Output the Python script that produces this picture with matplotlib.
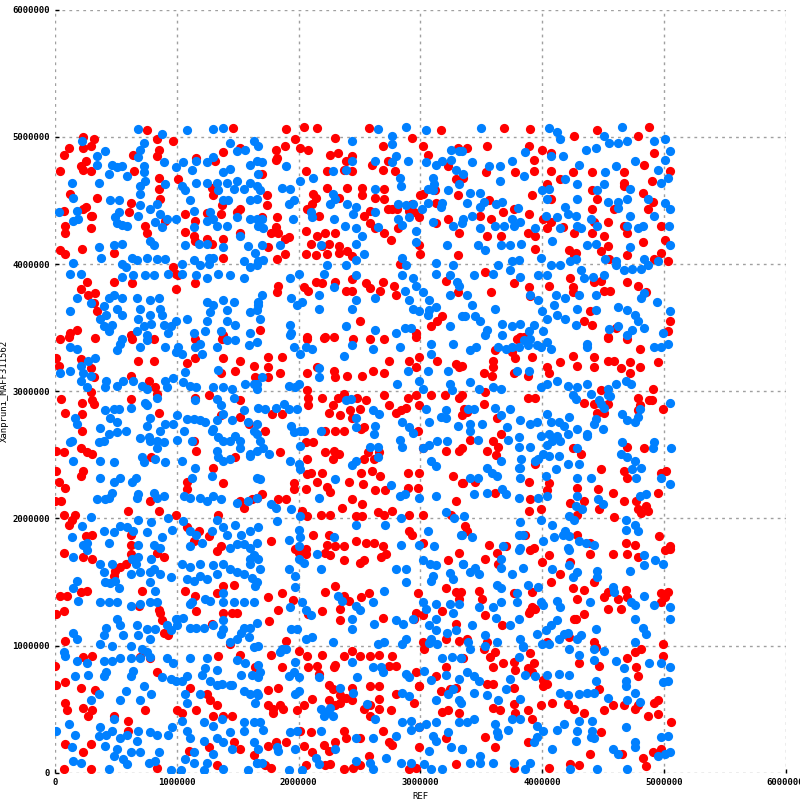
import numpy as np
import matplotlib
matplotlib.use("Agg")
import matplotlib.pyplot as plt

# dot positions, in Mb (x = REF, y = query)
# blue = forward matches, red = reverse matches, grouped by area of the plot

blue_top_left = [(0.68,5.06),(0.88,5.02),(1.08,5.05),(1.30,5.06),(1.38,5.07),(0.22,4.97),(0.34,4.85),(0.34,4.78),(0.41,4.89),(0.47,4.78),(0.51,4.76),(0.44,4.71),(0.55,4.77),(0.59,4.69),(0.70,4.90),(0.73,4.95),(0.68,4.84),(0.73,4.77),(0.73,4.72),(0.89,4.80),(0.99,4.76),(1.05,4.80),(1.04,4.61),(1.07,4.58),(0.36,4.64),(0.14,4.64),(0.15,4.52),(0.45,4.50),(0.52,4.50),(0.03,4.41),(0.18,4.42),(0.19,4.35),(0.15,4.34),(0.52,4.41),(0.49,4.37),(0.51,4.32),(0.59,4.30),(0.55,4.31),(0.70,4.61),(0.74,4.65),(0.70,4.55),(0.70,4.46),(0.68,4.38),(0.90,4.63),(0.78,4.43),(0.84,4.47),(0.86,4.39),(0.82,4.33),(0.92,4.35),(0.88,4.29),(0.78,4.18),(0.81,4.15),(0.99,4.35),(0.36,4.13),(0.48,4.15),(0.55,4.16),(0.38,4.05),(0.63,4.05),(0.67,4.03),(0.75,4.05),(0.84,4.04),(0.90,4.04),(0.15,4.01),(0.55,4.00),(0.58,3.98),(1.04,4.00),(1.04,3.92),(0.12,3.92),(0.21,3.92),(0.55,3.90),(0.64,3.91),(0.74,3.91),(0.81,3.91),(0.93,3.92),(0.18,3.73),(0.29,3.69),(0.40,3.67),(0.44,3.73),(0.48,3.76),(0.42,3.60),(0.37,3.57),(0.47,3.52),(0.40,3.51),(0.44,3.47),(0.67,3.73),(0.70,3.65),(0.68,3.57),(0.73,3.51),(0.75,3.44),(0.67,3.47),(0.78,3.72),(0.85,3.73),(0.86,3.65),(0.78,3.60),(0.79,3.53),(0.89,3.52),(0.95,3.51),(0.99,3.55),(0.93,3.46),(0.55,3.73),(0.51,3.65),(0.55,3.60),(0.12,3.63),(0.88,3.60),
    (1.16,4.81),(1.25,4.80),(1.30,4.84),(1.38,4.72),(1.44,4.75),(1.49,4.89),(1.56,4.90),(1.63,4.97),(1.12,4.74),(1.44,4.95),(1.60,4.78),(1.67,4.71),(1.16,4.64),(1.25,4.64),(1.33,4.64),(1.41,4.64),(1.49,4.65),(1.60,4.64),(1.66,4.61),(1.34,4.58),(1.38,4.50),(1.42,4.50),(1.47,4.59),(1.55,4.59),(1.60,4.50),(1.27,4.41),(1.30,4.35),(1.25,4.34),(1.33,4.30),(1.41,4.30),(1.49,4.37),(1.60,4.35),(1.66,4.35),(1.11,4.50),(1.14,4.42),(1.14,4.29),(1.18,4.16),(1.25,4.16),(1.38,4.13),(1.52,4.22),(1.58,4.14),(1.64,4.09),(1.26,4.05),(1.30,4.05),(1.07,4.15),(1.14,4.03),(1.19,3.99),(1.26,4.00),(1.55,4.02),(1.60,3.98),(1.66,3.99),(1.16,3.91),(1.25,3.89),(1.34,3.92),(1.44,3.91),(1.55,3.89),(1.25,3.70),(1.27,3.62),(1.25,3.55),(1.23,3.47),(1.30,3.68),(1.38,3.72),(1.41,3.64),(1.47,3.70),(1.41,3.55),(1.48,3.52),(1.36,3.47),(1.60,3.62),(1.67,3.68),(1.08,3.57),(1.14,3.46),(1.60,3.46)]

red_top_left = [(0.75,5.05),(0.97,4.97),(1.46,5.07),(0.23,5.00),(0.32,4.98),(0.29,4.93),(0.23,4.91),(0.11,4.91),(0.07,4.86),(0.25,4.81),(0.21,4.77),(0.29,4.73),(0.23,4.74),(0.04,4.73),(0.64,4.86),(0.65,4.73),(0.84,4.98),(0.85,4.90),(0.84,4.85),(1.01,4.67),(0.12,4.55),(0.34,4.52),(0.25,4.45),(0.30,4.38),(0.29,4.28),(0.62,4.48),(0.61,4.41),(0.07,4.42),(0.23,4.43),(0.29,4.38),(0.08,4.30),(0.08,4.24),(0.04,4.11),(0.08,4.08),(0.85,4.68),(0.85,4.59),(0.86,4.51),(0.90,4.34),(0.74,4.30),(0.75,4.24),(1.07,4.39),(0.22,4.12),(0.48,4.09),(0.97,3.98),(0.99,3.92),(1.01,3.91),(0.26,3.86),(0.48,3.86),(0.63,3.85),(0.21,3.80),(0.27,3.76),(0.33,3.77),(0.34,3.63),(0.32,3.69),(0.99,3.80),(0.18,3.48),(0.12,3.46),(0.62,3.44),
    (1.16,4.83),(1.31,4.81),(1.38,4.88),(1.52,4.91),(1.29,4.60),(1.30,4.54),(1.37,4.46),(1.36,4.39),(1.49,4.41),(1.52,4.43),(1.15,4.34),(1.15,4.18),(1.29,4.16),(1.38,4.20),(1.25,4.20),(1.25,4.40),(1.07,4.25),(1.14,4.22),(1.38,4.05),(1.52,4.24),(1.15,3.85),(1.38,3.44)]

blue_top_mid = [(2.65,5.06),(2.88,5.08),(3.05,5.05),(1.67,4.93),(1.70,4.80),(1.66,4.81),(2.44,4.97),(2.44,4.81),(2.39,4.74),(2.28,4.73),(2.77,5.01),(2.77,4.94),(2.80,4.85),(2.77,4.80),(2.90,4.81),(2.63,4.81),(1.90,4.77),(2.12,4.68),(2.01,4.65),(2.83,4.68),(2.84,4.61),(3.05,4.80),(3.13,4.78),(3.18,4.81),(3.25,4.82),(3.25,4.90),(3.32,4.89),(3.29,4.74),(3.10,4.68),(3.11,4.63),(3.06,4.59),(3.10,4.58),(3.23,4.58),(3.32,4.63),(1.86,4.60),(1.93,4.59),(1.68,4.58),(1.66,4.51),(1.96,4.50),(1.92,4.47),(1.95,4.35),(1.70,4.35),(1.67,4.30),(1.71,4.28),(1.70,4.15),(1.85,4.15),(1.67,4.02),(1.71,4.03),(2.10,4.41),(2.11,4.37),(2.28,4.55),(2.30,4.51),(2.26,4.47),(2.29,4.35),(2.40,4.47),(2.47,4.45),(2.45,4.39),(2.63,4.59),(2.18,4.15),(2.47,4.16),(2.52,4.22),(2.47,4.28),(2.54,4.08),(2.47,4.03),(2.38,4.30),(2.65,4.29),(2.63,4.41),(2.82,4.47),(2.88,4.46),(2.82,4.35),(2.85,4.31),(2.91,4.37),(2.94,4.47),(3.01,4.43),(2.96,4.26),(2.96,4.17),(3.10,4.33),(3.22,4.15),(3.06,4.48),(3.17,4.45),(3.18,4.48),(3.27,4.30),(3.34,4.32),(2.85,4.05),(2.88,3.99),(2.85,3.91),(2.94,3.89),(2.96,3.83),(2.87,3.79),(2.91,3.72),(2.94,3.65),(2.99,3.63),(3.02,3.78),(3.07,3.72),(3.13,3.66),(3.07,3.64),(3.13,4.01),(3.27,3.99),(3.13,3.92),(3.24,3.91),(3.30,3.86),(3.32,3.83),(3.24,3.76),(3.24,3.51),(3.34,3.59),(3.06,3.60),(2.39,3.99),(2.23,3.99),(2.21,3.92),(2.00,3.92),(1.93,3.89),(2.29,3.82),(2.47,3.91),(1.70,3.76),(1.67,3.70),(1.66,3.64),(2.03,3.70),(1.94,3.73),(1.99,3.68),(2.17,3.76),(2.17,3.65),(2.47,3.72),(2.44,3.65),(2.63,3.73),(1.68,3.57),(1.93,3.52),(1.94,3.46),(2.39,3.51),(2.63,3.48),(2.80,3.46),(2.87,3.50),(2.92,3.50)]

red_top_mid = [(1.90,5.06),(2.04,5.08),(2.15,5.07),(2.58,5.07),(3.17,5.05),(1.97,4.98),(2.01,4.91),(1.89,4.93),(1.81,4.90),(1.82,4.83),(2.08,4.90),(2.30,4.99),(2.26,4.86),(2.32,4.87),(2.39,4.81),(2.44,4.85),(2.44,4.73),(2.37,4.74),(2.23,4.73),(2.69,4.93),(2.60,4.78),(2.69,4.74),(2.79,4.73),(2.73,4.81),(2.93,4.99),(3.02,4.93),(3.06,4.86),(1.70,4.71),(1.81,4.82),(2.06,4.73),(3.23,4.77),(3.31,4.91),(3.29,4.67),(3.35,4.68),(3.12,4.58),(3.02,4.55),(3.31,4.54),(1.74,4.54),(1.74,4.46),(1.82,4.37),(1.81,4.29),(1.77,4.24),(1.70,4.37),(1.83,4.24),(1.89,4.20),(1.92,4.21),(1.75,4.13),(1.89,4.08),(1.82,4.04),(2.14,4.52),(2.11,4.47),(2.07,4.43),(2.17,4.38),(2.12,4.55),(2.23,4.60),(2.33,4.52),(2.40,4.60),(2.52,4.60),(2.52,4.54),(2.63,4.52),(2.70,4.59),(2.70,4.51),(2.06,4.26),(2.15,4.22),(2.22,4.24),(2.30,4.24),(2.25,4.16),(2.33,4.14),(2.19,4.14),(2.10,4.16),(2.06,4.08),(2.14,4.07),(2.23,4.08),(2.33,4.09),(2.40,4.10),(2.44,4.06),(2.54,4.38),(2.59,4.42),(2.63,4.28),(2.70,4.24),(2.76,4.19),(2.59,4.32),(2.73,4.43),(2.77,4.43),(2.81,4.43),(2.91,4.42),(2.95,4.41),(2.99,4.37),(2.93,4.47),(3.00,4.54),(2.82,4.28),(3.13,4.32),(3.23,4.35),(2.99,4.15),(3.00,4.08),(3.13,4.48),(3.32,4.24),(3.31,4.07),(2.83,4.00),(3.21,3.87),(3.31,3.78),(3.14,3.55),(3.09,3.51),(3.18,3.59),(2.14,3.86),(2.19,3.85),(2.04,3.82),(2.08,3.79),(2.30,3.86),(2.39,3.79),(2.44,3.79),(2.55,3.85),(2.59,3.81),(2.69,3.86),(2.67,3.79),(2.78,3.83),(2.80,3.76),(1.83,3.83),(1.82,3.78),(2.44,3.88),(2.50,3.55),(2.96,3.46),(1.68,3.48),(2.07,3.43),(2.22,3.43)]

blue_top_right = [(3.50,5.07),(4.06,5.07),(4.12,5.04),(4.15,4.98),(4.51,5.01),(4.55,4.95),(4.62,4.95),(4.70,4.97),(4.66,5.08),(4.92,4.97),(5.01,4.98),(5.05,4.89),(5.01,4.82),(3.34,4.89),(3.42,4.80),(3.56,4.77),(3.65,4.77),(3.75,4.81),(3.86,4.88),(3.85,4.69),(3.65,4.65),(4.07,4.85),(4.17,4.85),(4.36,4.90),(4.44,4.91),(4.30,4.78),(4.19,4.67),(4.29,4.63),(4.52,4.72),(4.61,4.77),(4.76,4.81),(4.95,4.74),(4.98,4.64),(5.03,4.68),(3.35,4.71),(3.41,4.56),(3.49,4.56),(3.38,4.48),(3.35,4.35),(3.42,4.38),(3.49,4.45),(3.52,4.49),(3.62,4.47),(3.67,4.49),(3.80,4.44),(3.75,4.35),(3.82,4.33),(3.61,4.30),(3.69,4.30),(3.77,4.30),(3.49,4.28),(3.47,4.15),(3.53,4.11),(3.66,4.15),(3.74,4.15),(3.83,4.16),(3.94,4.28),(4.00,4.58),(4.06,4.59),(4.04,4.51),(4.03,4.38),(4.12,4.37),(4.19,4.45),(4.21,4.39),(4.28,4.38),(4.08,4.18),(4.15,4.28),(4.29,4.51),(4.29,4.30),(4.32,4.28),(4.40,4.35),(4.37,4.15),(4.44,4.16),(4.45,4.30),(4.45,4.58),(4.51,4.63),(4.54,4.49),(4.62,4.49),(4.62,4.44),(4.72,4.59),(4.70,4.51),(4.72,4.38),(4.70,4.30),(4.79,4.28),(4.83,4.30),(4.87,4.51),(4.92,4.38),(5.01,4.48),(5.05,4.43),(5.04,4.30),(5.05,4.15),(4.72,4.13),(4.84,4.04),(4.52,4.04),(4.61,3.99),(3.99,4.05),(4.07,3.99),(4.15,3.99),(4.23,4.02),(4.28,4.04),(3.97,3.91),(4.04,3.91),(3.64,3.99),(3.75,4.02),(3.81,4.03),(3.74,3.95),(3.82,3.90),(3.60,3.92),(3.44,3.91),(4.32,3.95),(4.34,3.89),(4.42,3.90),(4.51,3.91),(4.61,4.02),(4.67,3.95),(4.74,3.96),(4.81,3.96),(4.87,3.99),(4.95,4.02),(3.38,3.76),(3.42,3.68),(3.45,3.59),(3.49,3.55),(3.37,3.59),(3.61,3.65),(3.67,3.53),(3.75,3.51),(3.82,3.53),(3.89,3.47),(3.93,3.52),(3.90,3.76),(3.97,3.72),(4.00,3.63),(4.04,3.57),(4.01,3.47),(4.11,3.76),(4.10,3.68),(4.12,3.60),(4.19,3.73),(4.19,3.57),(4.30,3.76),(4.29,3.65),(4.28,3.52),(4.44,3.76),(4.44,3.64),(4.62,3.66),(4.70,3.64),(4.76,3.60),(4.79,3.55),(4.74,3.48),(4.81,3.73),(4.84,3.77),(4.94,3.70),(5.05,3.63),(4.99,3.46),(4.55,3.49),(4.84,3.50),(4.62,3.51),(3.55,3.48)]

red_top_right = [(3.69,5.07),(3.90,5.06),(4.26,5.01),(4.45,5.05),(4.79,5.01),(4.88,5.08),(3.38,4.91),(3.55,4.93),(3.89,4.93),(3.93,4.82),(3.78,4.72),(4.00,4.90),(4.07,4.87),(3.54,4.72),(3.93,4.73),(4.07,4.73),(4.25,4.72),(4.15,4.67),(4.41,4.72),(4.67,4.72),(4.84,4.78),(4.67,4.64),(4.92,4.87),(5.05,4.73),(4.90,4.65),(3.49,4.38),(3.58,4.35),(3.56,4.50),(3.68,4.41),(3.77,4.43),(3.89,4.39),(3.66,4.22),(3.55,4.22),(3.88,4.24),(3.94,4.22),(3.94,4.12),(3.92,4.54),(4.04,4.63),(4.07,4.51),(4.01,4.35),(4.07,4.33),(4.04,4.28),(4.17,4.29),(4.26,4.24),(4.28,4.09),(4.41,4.58),(4.45,4.51),(4.41,4.43),(4.43,4.33),(4.54,4.33),(4.51,4.22),(4.41,4.24),(4.54,4.14),(4.48,4.10),(4.59,4.43),(4.67,4.61),(4.67,4.30),(4.70,4.24),(4.83,4.56),(4.87,4.43),(4.91,4.49),(4.98,4.30),(5.01,4.19),(4.98,4.09),(4.92,4.04),(5.03,4.02),(4.83,4.17),(4.70,4.07),(4.55,4.04),(4.22,4.11),(4.26,4.07),(3.53,3.94),(3.77,3.85),(3.89,3.82),(3.58,3.78),(4.06,3.83),(3.90,3.75),(4.23,3.89),(4.25,3.82),(4.25,3.78),(4.43,3.86),(4.48,3.87),(4.51,3.79),(4.56,3.79),(4.70,3.86),(4.79,3.83),(4.85,3.78),(4.34,3.55),(4.41,3.52),(4.39,3.63),(4.61,3.50),(5.05,3.55),(5.03,3.47),(3.82,3.43),(4.54,3.43)]

blue_mid_left = [(0.12,3.35),(0.18,3.33),(0.53,3.37),(0.51,3.32),(0.70,3.35),(0.75,3.40),(0.90,3.35),(0.55,3.41),(0.04,3.14),(0.12,3.16),(0.21,3.20),(0.27,3.24),(0.33,3.26),(0.23,3.14),(0.29,3.12),(0.21,3.08),(0.26,3.03),(0.42,3.08),(0.41,3.03),(0.51,3.04),(0.56,3.08),(0.64,3.08),(0.71,3.04),(0.75,3.02),(0.90,3.08),(0.92,3.03),(0.97,3.10),(0.84,2.95),(1.01,3.35),(1.04,3.29),(0.99,3.31),(1.15,3.35),(1.19,3.37),(1.21,3.29),(1.33,3.35),(1.41,3.40),(1.48,3.40),(1.59,3.36),(1.66,3.39),(1.34,3.17),(1.07,3.15),(1.05,3.07),(1.11,3.04),(1.16,3.03),(1.30,3.03),(1.38,3.03),(1.45,3.02),(1.56,3.06),(1.63,3.06),(1.66,3.02),(0.62,2.87),(0.74,2.91),(0.75,2.89),(0.48,2.86),(0.52,2.86),(0.41,2.85),(0.45,2.79),(0.51,2.76),(0.16,2.79),(0.18,2.74),(0.44,2.66),(0.37,2.71),(0.40,2.61),(0.51,2.68),(0.58,2.69),(0.36,2.60),(0.14,2.61),(0.12,2.60),(0.78,2.79),(0.75,2.73),(0.77,2.64),(0.70,2.63),(0.78,2.61),(0.84,2.61),(0.86,2.69),(0.89,2.60),(0.90,2.74),(0.97,2.74),(1.00,2.81),(1.00,2.62),(1.06,2.69),(0.84,2.55),(0.82,2.47),(0.71,2.48),(0.73,2.44),(0.90,2.44),(1.04,2.45),(0.15,2.45),(0.37,2.45),(0.48,2.44),(1.08,2.78),(1.14,2.78),(1.19,2.77),(1.23,2.76),(1.12,2.61),(1.30,2.70),(1.34,2.64),(1.38,2.61),(1.44,2.61),(1.48,2.65),(1.52,2.61),(1.52,2.55),(1.60,2.51),(1.66,2.53),(1.33,2.53),(1.33,2.94),(1.36,2.89),(1.38,2.82),(1.45,2.77),(1.47,2.95),(1.55,2.85),(1.58,2.76),(1.63,2.69),(1.66,2.66),(1.33,2.77),(1.29,2.69),(1.15,2.93),(1.34,2.48),(1.38,2.45),(1.44,2.47),(1.15,2.40),(1.29,2.33),(1.66,2.32),(1.60,2.49),(0.37,2.32),(0.48,2.29),(0.53,2.32),(0.63,2.29),(0.66,2.32),(0.44,2.16),(0.47,2.20),(0.34,2.15),(0.41,2.15),(0.68,2.19),(0.67,2.16),(0.81,2.20),(0.89,2.18),(0.84,2.16),(1.06,2.18),(1.11,2.16),(1.19,2.16),(1.25,2.14),(1.30,2.18),(1.36,2.15),(1.12,2.32),(1.49,2.12),(1.58,2.14),(0.22,1.94),(0.29,2.01),(0.40,1.90),(0.48,1.89),(0.53,1.94),(0.59,1.93),(0.64,1.90),(0.68,1.99),(0.75,1.89),(0.79,1.97),(0.93,2.00),(0.88,1.85),(0.96,1.91),(0.14,1.85),(0.23,1.79),(0.26,1.81),(0.44,1.81),(0.68,1.79),(0.81,1.79),(0.86,1.77),(1.05,1.98),(1.11,1.90),(1.16,1.87),(1.21,1.81),(1.11,1.78),(1.29,1.90),(1.33,1.99),(1.38,1.93),(1.48,1.95),(1.41,1.87),(1.53,1.87),(1.60,1.90),(1.67,1.93),(1.49,1.80),(1.55,1.80),(1.60,1.77),(1.44,1.77)]

red_mid_left = [(0.04,3.41),(0.11,3.43),(0.33,3.42),(0.63,3.41),(0.81,3.41),(0.01,3.26),(0.03,3.20),(0.21,3.25),(0.29,3.18),(0.32,3.11),(0.68,3.24),(0.81,3.24),(0.62,3.12),(0.77,3.08),(0.82,3.03),(0.84,2.98),(0.29,2.99),(0.30,2.93),(0.32,2.90),(1.15,3.41),(1.38,3.26),(1.08,3.22),(1.15,3.26),(1.37,3.41),(1.52,3.24),(1.48,3.16),(1.63,3.20),(1.64,3.11),(1.36,3.14),(0.05,2.94),(0.08,2.83),(0.22,2.91),(0.22,2.82),(0.62,2.94),(0.85,2.83),(0.22,2.69),(0.21,2.55),(0.26,2.52),(0.30,2.51),(0.01,2.53),(0.07,2.52),(0.79,2.48),(1.16,2.53),(1.14,2.61),(1.52,2.80),(1.59,2.74),(1.36,2.81),(1.52,2.93),(1.26,2.97),(1.15,2.95),(1.30,2.40),(1.48,2.48),(1.38,2.28),(0.01,2.37),(0.03,2.29),(0.08,2.24),(0.23,2.37),(0.21,2.33),(0.00,2.14),(0.05,2.14),(0.78,2.14),(0.60,2.06),(0.85,2.06),(0.99,2.03),(0.07,2.03),(0.14,1.99),(0.16,2.03),(0.11,1.95),(1.08,2.29),(1.08,2.23),(1.52,2.14),(1.55,2.08),(1.62,2.15),(1.66,2.16),(0.25,1.86),(0.30,1.87),(0.62,1.87),(0.62,1.79),(1.08,1.93),(1.18,1.90),(1.26,1.86),(1.34,2.03),(1.14,1.82),(1.36,1.78)]

blue_mid_mid = [(1.93,3.44),(2.44,3.36),(2.61,3.33),(2.83,3.35),(3.09,3.37),(3.27,3.37),(3.09,3.29),(1.96,3.35),(2.06,3.35),(2.11,3.33),(2.01,3.29),(2.37,3.28),(2.17,3.18),(2.17,3.11),(2.90,3.16),(3.06,3.16),(3.23,3.16),(2.81,3.06),(2.99,3.08),(3.24,3.06),(3.26,3.01),(1.70,3.11),(1.66,3.06),(1.92,3.04),(2.00,3.06),(1.97,3.03),(2.39,2.93),(2.43,2.94),(2.47,2.79),(2.61,2.85),(2.66,2.82),(3.05,2.86),(3.21,2.85),(3.17,2.80),(3.31,2.73),(3.02,3.02),(1.67,2.87),(1.72,2.86),(1.81,2.87),(1.88,2.90),(1.92,2.86),(1.99,2.86),(1.66,2.74),(1.94,2.73),(1.96,2.68),(2.01,2.69),(2.04,2.69),(2.18,2.69),(2.47,2.72),(2.63,2.73),(2.62,2.66),(2.85,2.76),(2.91,2.72),(2.94,2.67),(2.83,2.62),(2.85,2.56),(3.02,2.55),(3.07,2.76),(3.07,2.58),(3.14,2.61),(3.22,2.61),(3.21,2.79),(1.68,2.61),(1.71,2.55),(1.76,2.51),(2.01,2.57),(1.93,2.45),(2.00,2.43),(2.01,2.39),(2.47,2.45),(2.44,2.42),(2.59,2.56),(2.65,2.56),(2.65,2.48),(3.09,2.45),(3.13,2.41),(1.68,2.31),(2.30,2.31),(2.76,2.26),(2.83,2.18),(2.87,2.19),(2.99,2.16),(3.13,2.18),(3.21,2.05),(3.28,2.00),(3.36,2.02),(1.66,2.16),(1.77,2.11),(1.81,2.08),(1.94,2.07),(2.17,2.16),(2.01,2.02),(1.82,1.98),(2.47,1.95),(2.71,1.95),(2.84,2.00),(2.00,1.91),(2.01,1.85),(1.92,1.83),(2.00,1.78),(1.66,1.81),(2.29,1.85),(2.84,1.79),(2.99,1.79),(3.06,1.90),(3.11,1.78),(3.33,1.87)]

red_mid_mid = [(2.07,3.41),(2.21,3.42),(2.29,3.43),(2.45,3.41),(2.59,3.41),(2.70,3.41),(2.96,3.43),(1.75,3.27),(1.86,3.27),(1.75,3.19),(1.85,3.14),(2.07,3.14),(2.15,3.19),(2.29,3.16),(2.30,3.11),(2.40,3.12),(2.52,3.12),(2.61,3.16),(2.74,3.24),(2.70,3.14),(2.91,3.24),(2.99,3.27),(2.96,3.19),(3.14,3.24),(3.29,3.21),(3.32,3.19),(1.75,3.11),(2.07,3.01),(2.08,2.95),(2.19,2.95),(2.28,2.89),(2.32,2.95),(2.25,2.83),(2.37,2.98),(2.48,2.95),(2.55,2.93),(2.50,2.86),(2.70,2.97),(2.74,2.89),(2.80,2.83),(2.90,2.95),(2.96,2.97),(2.99,2.89),(3.09,2.97),(3.20,2.97),(3.32,2.95),(3.36,2.86),(1.78,2.82),(1.86,2.82),(2.08,2.89),(2.34,2.81),(2.42,2.85),(2.44,2.79),(2.84,2.85),(2.88,2.87),(1.72,2.69),(2.22,2.69),(2.30,2.69),(2.37,2.69),(2.51,2.70),(2.54,2.72),(2.98,2.69),(2.06,2.60),(2.12,2.60),(3.02,2.55),(3.21,2.53),(3.32,2.53),(1.85,2.52),(2.07,2.47),(2.22,2.52),(2.29,2.53),(2.33,2.51),(2.28,2.47),(2.57,2.52),(2.54,2.47),(2.62,2.47),(2.66,2.52),(2.07,2.35),(2.10,2.36),(2.19,2.36),(1.96,2.28),(1.96,2.23),(2.06,2.23),(2.15,2.29),(2.23,2.25),(2.26,2.21),(2.41,2.29),(2.51,2.36),(2.60,2.37),(2.67,2.33),(2.53,2.27),(2.71,2.22),(2.63,2.22),(2.90,2.36),(2.99,2.36),(2.90,2.24),(2.98,2.24),(3.27,2.33),(3.35,2.28),(3.29,2.14),(1.70,2.19),(1.83,2.15),(1.90,2.15),(2.03,2.06),(2.07,2.02),(2.18,2.03),(2.26,2.03),(2.36,2.08),(2.44,2.15),(2.52,2.11),(2.47,2.02),(2.52,2.02),(2.65,2.05),(2.70,2.03),(2.77,2.06),(2.91,2.03),(3.02,2.03),(3.25,2.03),(1.77,1.82),(2.12,1.87),(2.25,1.87),(2.23,1.79),(2.30,1.78),(2.37,1.78),(2.47,1.82),(2.55,1.81),(2.62,1.81),(2.69,1.78),(2.91,1.90),(2.93,1.87),(3.02,1.81),(1.97,1.76),(2.06,1.76)]

blue_mid_right = [(3.53,3.44),(3.67,3.44),(3.85,3.40),(3.90,3.41),(3.96,3.36),(4.04,3.39),(3.88,3.36),(3.81,3.35),(3.99,3.35),(3.41,3.32),(3.46,3.35),(3.64,3.35),(3.70,3.33),(3.75,3.35),(3.79,3.16),(3.89,3.16),(4.07,3.33),(4.37,3.37),(4.37,3.35),(4.70,3.44),(4.92,3.35),(4.98,3.35),(5.03,3.37),(3.41,3.07),(3.48,3.02),(3.60,3.03),(3.66,3.02),(3.99,3.03),(4.04,3.06),(4.12,3.08),(4.21,3.04),(4.29,3.03),(4.37,3.06),(4.54,3.02),(4.61,3.06),(4.69,3.08),(4.73,3.06),(4.25,2.97),(4.28,2.94),(4.40,2.98),(4.47,2.93),(4.54,2.97),(4.56,2.96),(5.05,2.91),(4.48,2.90),(4.51,2.87),(4.80,2.86),(4.66,2.82),(4.70,2.77),(4.76,2.76),(4.79,2.80),(3.39,2.86),(3.44,2.86),(3.61,2.87),(3.66,2.81),(3.74,2.86),(3.41,2.74),(3.41,2.69),(3.51,2.74),(3.71,2.72),(3.82,2.77),(3.90,2.74),(3.96,2.76),(4.04,2.82),(4.07,2.76),(4.14,2.76),(4.22,2.80),(4.18,2.73),(4.29,2.70),(4.37,2.65),(4.44,2.78),(4.50,2.70),(4.43,2.74),(3.99,2.65),(4.06,2.66),(4.12,2.65),(4.21,2.66),(4.15,2.61),(4.04,2.58),(4.01,2.51),(4.08,2.61),(3.47,2.62),(3.72,2.62),(3.81,2.64),(3.81,2.56),(3.90,2.56),(3.83,2.47),(3.82,2.40),(3.66,2.45),(3.97,2.47),(3.94,2.45),(4.06,2.49),(4.14,2.49),(4.21,2.43),(4.30,2.43),(4.29,2.55),(4.37,2.66),(4.66,2.60),(4.65,2.51),(4.70,2.48),(4.76,2.45),(4.74,2.39),(4.81,2.40),(4.77,2.32),(4.92,2.60),(4.91,2.55),(4.98,2.32),(5.05,2.27),(5.06,2.55),(3.55,2.40),(3.59,2.36),(3.63,2.33),(3.41,2.32),(3.47,2.32),(3.81,2.40),(3.82,2.32),(4.03,2.33),(4.11,2.39),(4.29,2.32),(4.40,2.32),(3.44,2.19),(3.55,2.20),(3.67,2.23),(3.70,2.19),(3.81,2.16),(3.97,2.16),(4.04,2.18),(4.29,2.18),(4.28,2.10),(4.33,2.07),(4.46,2.15),(4.50,2.11),(4.80,2.18),(4.85,2.19),(3.99,1.99),(4.08,1.95),(4.22,2.02),(4.26,1.99),(3.82,1.97),(3.84,1.87),(3.81,1.87),(4.01,1.82),(4.10,1.85),(4.17,1.87),(4.22,1.86),(4.19,1.90),(4.30,1.82),(4.36,1.81),(4.43,1.79),(4.69,1.99),(4.69,1.91),(4.76,1.95),(4.79,1.90),(3.34,1.87),(3.42,1.85),(3.68,1.78),(3.82,1.77),(4.21,1.77)]

red_mid_right = [(3.79,3.41),(3.75,3.31),(3.78,3.26),(3.92,3.27),(3.85,3.43),(3.61,3.32),(3.60,3.24),(3.60,3.19),(3.52,3.14),(3.59,3.12),(3.77,3.14),(3.88,3.12),(3.34,3.20),(4.04,3.19),(4.06,3.14),(4.15,3.23),(4.25,3.28),(4.29,3.20),(4.43,3.27),(4.43,3.19),(4.54,3.24),(4.59,3.24),(4.65,3.18),(4.72,3.23),(4.80,3.33),(4.80,3.19),(4.72,3.14),(4.70,3.41),(4.54,3.42),(4.95,3.23),(3.34,2.97),(3.53,2.99),(3.88,2.95),(3.94,2.95),(4.48,3.01),(4.91,3.02),(4.88,2.93),(4.79,2.95),(4.43,2.90),(4.45,2.83),(4.51,2.83),(4.54,2.90),(4.34,2.91),(4.79,2.85),(4.80,2.89),(4.90,2.93),(4.99,2.86),(3.34,2.81),(3.38,2.84),(3.63,2.79),(3.52,2.90),(3.66,2.66),(3.60,2.61),(3.64,2.56),(3.55,2.53),(3.62,2.50),(3.41,2.62),(3.34,2.55),(4.25,2.55),(4.32,2.51),(3.94,2.43),(4.48,2.39),(4.70,2.56),(4.84,2.55),(4.67,2.37),(4.70,2.32),(4.98,2.36),(5.02,2.37),(3.89,2.29),(4.06,2.28),(4.04,2.22),(4.29,2.24),(4.46,2.23),(4.58,2.20),(4.67,2.14),(4.77,2.14),(4.79,2.07),(4.85,2.10),(4.81,2.04),(4.87,2.06),(4.95,2.20),(3.34,2.28),(3.45,2.29),(3.61,2.20),(3.90,2.15),(3.89,2.06),(3.99,2.07),(4.23,2.12),(4.34,2.14),(4.47,2.07),(4.59,2.01),(3.86,1.87),(3.93,1.77),(4.29,2.03),(4.29,1.87),(3.37,1.94),(3.38,1.90),(3.56,1.79),(3.70,1.78),(4.69,1.81),(4.76,1.79),(4.96,1.86),(5.05,1.78),(4.39,1.81)]

blue_low_left = [(0.15,1.70),(0.26,1.75),(0.37,1.64),(0.47,1.64),(0.63,1.68),(0.68,1.70),(0.79,1.68),(0.40,1.58),(0.41,1.50),(0.45,1.49),(0.49,1.51),(0.62,1.56),(0.70,1.58),(0.78,1.58),(0.86,1.56),(0.95,1.54),(0.66,1.64),(0.81,1.60),(0.18,1.51),(0.15,1.45),(0.19,1.35),(0.37,1.34),(0.44,1.34),(0.51,1.34),(0.62,1.31),(0.70,1.33),(0.78,1.34),(0.84,1.34),(0.52,1.45),(0.78,1.50),(0.82,1.43),(0.51,1.21),(0.53,1.16),(0.42,1.14),(0.40,1.08),(0.15,1.10),(0.18,1.05),(0.37,1.01),(0.47,1.00),(0.56,1.08),(0.62,1.00),(0.67,1.16),(0.68,1.08),(0.75,1.13),(0.78,1.05),(0.82,1.13),(0.92,1.16),(0.95,1.12),(1.00,1.21),(1.05,1.22),(1.11,1.14),(1.16,1.14),(1.22,1.14),(1.30,1.16),(1.38,1.20),(1.38,1.13),(1.36,1.09),(1.04,1.64),(1.11,1.62),(1.19,1.64),(1.30,1.63),(1.38,1.64),(1.08,1.52),(1.14,1.51),(1.19,1.55),(1.25,1.52),(1.33,1.56),(1.44,1.60),(1.49,1.58),(1.55,1.56),(1.60,1.64),(1.62,1.53),(1.64,1.47),(1.60,1.68),(1.63,1.71),(1.23,1.37),(1.27,1.35),(1.38,1.41),(1.38,1.34),(1.47,1.34),(1.55,1.34),(1.63,1.34),(1.11,1.33),(1.12,1.34),(0.99,1.21),(1.00,1.16),(1.44,1.03),(1.49,1.05),(1.53,1.10),(1.59,1.07),(1.63,0.99),(1.55,1.14),(1.60,1.14),(1.66,1.18),(0.07,0.95),(0.08,0.92),(0.18,0.88),(0.26,0.86),(0.40,0.88),(0.47,0.88),(0.53,0.90),(0.62,0.90),(0.70,0.90),(0.78,0.91),(0.75,0.95),(0.71,0.97),(0.92,0.90),(0.97,0.86),(1.11,0.90),(1.25,0.90),(1.23,0.82),(1.33,0.81),(1.37,0.70),(1.27,0.72),(1.33,0.69),(1.45,0.69),(1.53,0.77),(1.62,0.77),(1.67,0.85),(1.56,0.86),(1.49,0.89),(0.16,0.76),(0.27,0.77),(0.36,0.62),(0.29,0.57),(0.40,0.76),(0.42,0.79),(0.53,0.57),(0.58,0.64),(0.62,0.76),(0.64,0.80),(0.70,0.57),(0.79,0.62),(0.73,0.68),(0.88,0.75),(0.95,0.74),(0.99,0.72),(1.04,0.72),(1.07,0.62),(1.08,0.55),(1.19,0.62),(1.44,0.69),(1.55,0.64),(1.60,0.62),(1.64,0.55),(1.08,0.76),(1.21,0.77),
    (0.11,0.38),(0.01,0.33),(0.16,0.30),(0.14,0.20),(0.21,0.08),(0.15,0.09),(0.37,0.36),(0.36,0.29),(0.42,0.30),(0.41,0.21),(0.48,0.42),(0.47,0.33),(0.53,0.27),(0.59,0.30),(0.51,0.19),(0.48,0.13),(0.56,0.11),(0.62,0.16),(0.59,0.07),(0.68,0.33),(0.67,0.25),(0.78,0.32),(0.84,0.30),(0.70,0.16),(0.77,0.08),(0.85,0.16),(0.82,0.09),(0.44,0.03),(0.93,0.30),(0.96,0.36),(0.95,0.02),(1.04,0.41),(1.08,0.33),(1.11,0.27),(1.07,0.11),(1.14,0.08),(1.22,0.40),(1.30,0.37),(1.37,0.42),(1.22,0.25),(1.33,0.27),(1.38,0.24),(1.44,0.32),(1.45,0.19),(1.30,0.15),(1.25,0.08),(1.55,0.40),(1.55,0.33),(1.63,0.40),(1.63,0.24),(1.66,0.08),(1.58,0.02),(1.14,0.16),(1.03,0.02),(1.22,0.02),(1.38,0.03)]

red_low_left = [(0.07,1.73),(0.23,1.70),(0.30,1.68),(0.62,1.72),(0.84,1.73),(0.89,1.70),(0.49,1.59),(0.53,1.62),(0.58,1.64),(0.48,1.55),(0.04,1.39),(0.10,1.39),(0.21,1.42),(0.26,1.43),(0.71,1.43),(0.69,1.31),(0.85,1.28),(0.88,1.20),(0.89,1.10),(0.01,1.25),(0.07,1.27),(0.08,1.04),(0.23,0.91),(0.30,0.92),(0.86,1.26),(0.93,1.08),(1.29,1.17),(1.38,1.26),(1.45,1.26),(1.49,1.26),(1.33,1.74),(1.47,1.48),(1.38,1.47),(1.07,1.43),(1.15,1.39),(1.16,1.27),(1.33,1.41),(1.44,1.01),(1.52,0.93),(1.64,0.83),(1.34,0.92),(0.70,0.91),(0.78,0.90),(0.84,0.79),(0.00,0.84),(0.01,0.69),(0.08,0.71),(0.21,0.67),(0.33,0.65),(0.23,0.51),(0.30,0.49),(0.08,0.55),(0.10,0.49),(0.27,0.45),(0.74,0.49),(1.11,0.67),(1.25,0.62),(1.27,0.57),(1.33,0.53),(1.16,0.49),(1.00,0.49),(1.04,0.47),(1.30,0.45),(1.38,0.45),(1.45,0.45),(0.60,0.41),(0.60,0.33),(0.48,0.45),(0.08,0.23),(0.23,0.16),(0.29,0.23),(0.07,0.03),(0.29,0.03),(0.84,0.04),(1.10,0.17),(1.26,0.20),(1.33,0.06),(1.47,0.24),(1.52,0.19),(1.63,0.14)]

blue_low_mid = [(1.67,1.68),(1.68,1.60),(1.66,1.50),(2.00,1.68),(2.04,1.65),(2.15,1.72),(1.92,1.60),(1.97,1.55),(1.97,1.46),(2.18,1.60),(3.02,1.67),(3.08,1.64),(3.10,1.55),(3.13,1.63),(3.09,1.51),(3.24,1.57),(3.27,1.52),(3.35,1.64),(2.88,1.50),(2.80,1.60),(2.88,1.60),(2.03,1.34),(2.06,1.28),(2.10,1.24),(1.93,1.30),(2.32,1.39),(2.36,1.35),(2.47,1.31),(2.50,1.28),(2.44,1.21),(2.44,1.13),(2.61,1.34),(2.70,1.43),(2.62,1.17),(2.80,1.20),(2.86,1.17),(2.94,1.21),(3.02,1.34),(3.05,1.29),(3.13,1.33),(3.13,1.21),(3.24,1.33),(3.27,1.26),(3.32,1.33),(3.07,1.16),(3.13,1.12),(3.22,1.10),(3.29,1.12),(1.94,1.13),(1.99,1.13),(2.06,1.05),(2.11,1.07),(3.07,1.02),(3.09,1.05),(3.14,1.01),(3.18,0.90),(3.26,0.91),(3.33,0.90),(3.21,0.77),(3.32,0.74),(3.03,0.80),(3.09,0.73),(3.13,0.57),(3.23,0.62),(3.32,0.57),(3.27,0.66),(2.85,1.01),(2.88,1.05),(2.65,1.01),(2.70,1.03),(2.28,1.03),(1.90,0.97),(1.85,0.95),(1.86,0.97),(1.67,1.00),(1.97,0.87),(1.96,0.79),(1.92,0.76),(2.00,0.75),(2.17,0.75),(2.44,0.87),(2.48,0.75),(2.61,0.83),(2.68,0.83),(2.69,0.79),(2.88,0.78),(2.91,0.75),(2.85,0.63),(2.91,0.60),(1.68,0.79),(1.67,0.75),(1.66,0.63),(1.67,0.61),(1.97,0.62),(2.00,0.64),(2.34,0.67),(2.45,0.63),(2.56,0.54),(2.18,0.50),(2.21,0.45),(2.26,0.51),(2.28,0.45),(2.23,0.48),(2.63,0.42),(1.68,0.40),(1.71,0.34),(1.93,0.32),(1.99,0.33),(2.18,0.33),(2.47,0.27),(2.61,0.27),(2.80,0.29),(2.85,0.40),(2.92,0.41),(2.92,0.34),(2.99,0.36),(3.05,0.38),(3.13,0.40),(3.10,0.29),(3.13,0.25),(3.23,0.32),(3.32,0.40),(3.25,0.20),(3.34,0.19),(3.07,0.17),(1.82,0.20),(1.83,0.17),(1.97,0.19),(1.67,0.19),(1.66,0.08),(1.70,0.08),(1.92,0.02),(2.03,0.02),(2.14,0.12),(2.17,0.07),(2.30,0.19),(2.47,0.09),(2.59,0.08),(2.61,0.03),(2.72,0.12),(2.84,0.08),(2.92,0.08),(3.03,0.07),(3.09,0.03),(3.18,0.03)]

red_low_mid = [(2.00,1.73),(2.06,1.72),(2.22,1.73),(2.26,1.71),(2.37,1.67),(2.50,1.65),(2.54,1.67),(2.68,1.70),(2.72,1.72),(3.23,1.67),(3.32,1.73),(1.75,1.38),(1.86,1.41),(1.83,1.28),(1.76,1.19),(1.95,1.36),(2.08,1.25),(2.19,1.27),(2.22,1.42),(2.30,1.47),(2.37,1.39),(2.41,1.35),(2.51,1.38),(2.58,1.41),(2.34,1.29),(2.34,1.20),(2.69,1.22),(2.98,1.41),(2.96,1.26),(3.02,1.24),(3.18,1.27),(3.21,1.45),(3.29,1.42),(3.32,1.37),(3.29,1.17),(3.38,1.05),(2.95,1.21),(3.21,1.05),(3.32,1.04),(3.03,0.97),(3.02,1.03),(1.90,1.04),(1.77,0.93),(1.86,0.83),(2.00,0.96),(2.07,0.92),(2.08,0.83),(2.15,0.84),(2.19,0.93),(2.30,0.85),(2.29,0.83),(2.37,0.92),(2.44,0.96),(2.50,0.92),(2.59,0.92),(2.66,0.93),(2.77,0.92),(2.74,0.84),(2.80,0.84),(2.96,0.79),(2.99,0.68),(3.13,0.76),(3.21,0.83),(3.35,0.90),(3.29,0.67),(2.17,0.78),(1.83,0.67),(1.75,0.65),(2.25,0.69),(2.28,0.66),(2.34,0.61),(2.44,0.67),(2.59,0.68),(2.66,0.68),(2.80,0.62),(2.99,0.68),(2.95,0.55),(3.17,0.64),(3.24,0.66),(3.23,0.49),(3.32,0.47),(1.75,0.53),(1.79,0.50),(1.85,0.53),(1.79,0.47),(1.87,0.50),(1.99,0.49),(2.04,0.53),(2.11,0.58),(2.25,0.57),(2.30,0.53),(2.34,0.55),(2.39,0.59),(2.44,0.57),(2.54,0.50),(2.59,0.53),(2.66,0.58),(2.66,0.50),(2.76,0.49),(2.59,0.45),(2.69,0.33),(2.74,0.24),(2.77,0.22),(2.01,0.33),(2.10,0.32),(2.04,0.21),(2.11,0.16),(2.21,0.22),(2.25,0.17),(2.30,0.24),(2.37,0.33),(2.39,0.27),(2.50,0.27),(2.58,0.13),(1.75,0.21),(1.81,0.24),(1.90,0.24),(2.06,0.06),(2.22,0.06),(2.26,0.07),(2.37,0.03),(2.45,0.04),(2.50,0.06),(2.91,0.03),(2.96,0.04),(3.29,0.07),(1.77,0.04),(1.72,0.06),(2.99,0.20),(3.21,0.27),(2.99,0.36),(3.18,0.48)]

blue_low_right = [(3.35,1.64),(3.41,1.58),(3.45,1.61),(3.48,1.56),(3.66,1.68),(3.66,1.61),(3.75,1.56),(3.84,1.61),(3.81,1.75),(4.08,1.60),(4.22,1.63),(4.29,1.58),(4.25,1.54),(4.45,1.59),(4.45,1.54),(4.72,1.59),(4.84,1.71),(4.84,1.63),(4.93,1.67),(4.99,1.64),(4.22,1.75),(3.63,1.48),(3.66,1.45),(3.79,1.41),(3.88,1.48),(3.97,1.46),(3.99,1.34),(4.01,1.32),(3.79,1.34),(3.66,1.34),(3.60,1.30),(3.48,1.30),(3.62,1.22),(3.81,1.21),(4.12,1.35),(4.15,1.30),(4.39,1.34),(4.58,1.46),(4.59,1.42),(4.73,1.34),(4.76,1.32),(4.84,1.39),(4.92,1.32),(5.05,1.30),(5.05,1.21),(4.76,1.21),(4.83,1.14),(4.85,1.09),(3.42,1.16),(3.74,1.16),(3.96,1.09),(4.03,1.12),(4.07,1.16),(4.12,1.20),(4.18,1.09),(4.21,1.10),(4.29,1.05),(4.32,1.08),(4.44,1.13),(4.14,1.05),(4.00,1.01),(4.06,1.01),(3.82,1.05),(3.84,0.99),(3.81,0.91),(3.39,1.03),(3.41,0.97),(3.53,1.08),(3.53,1.00),(3.63,1.03),(3.84,1.00),(4.22,0.97),(4.30,0.93),(4.43,0.89),(4.51,0.96),(4.61,0.88),(4.43,0.97),(4.76,1.03),(4.67,0.82),(4.69,0.72),(4.69,0.68),(4.76,0.63),(4.88,0.86),(4.98,0.86),(5.05,0.83),(5.03,0.72),(4.99,0.71),(4.70,0.57),(4.80,0.56),(3.33,0.90),(3.38,0.79),(3.44,0.76),(3.48,0.72),(3.74,0.74),(3.86,0.77),(3.94,0.76),(4.04,0.77),(4.14,0.78),(4.22,0.77),(4.15,0.63),(4.21,0.61),(4.30,0.62),(4.37,0.63),(4.43,0.63),(4.44,0.72),(4.54,0.59),(3.55,0.61),(3.64,0.57),(3.44,0.63),(3.33,0.55),(3.70,0.66),(3.82,0.58),(3.38,0.40),(3.44,0.42),(3.61,0.38),(3.63,0.32),(3.75,0.42),(3.82,0.42),(3.96,0.37),(4.01,0.33),(3.96,0.28),(3.93,0.24),(4.12,0.34),(4.18,0.38),(4.30,0.41),(4.29,0.33),(4.41,0.41),(4.41,0.33),(4.40,0.28),(4.43,0.27),(4.28,0.25),(4.76,0.24),(4.69,0.36),(4.98,0.28),(5.03,0.29),(4.08,0.19),(3.90,0.08),(3.86,0.03),(3.77,0.08),(3.60,0.08),(3.49,0.13),(3.41,0.08),(3.49,0.08),(4.23,0.03),(4.45,0.03),(4.58,0.19),(4.62,0.15),(4.76,0.20),(4.95,0.13),(5.01,0.15),(5.05,0.16),(4.70,0.03),(3.34,0.19),(3.64,0.29),(3.72,0.34)]

red_low_right = [(3.53,1.68),(3.63,1.73),(3.64,1.64),(3.90,1.75),(4.00,1.66),(4.06,1.71),(4.23,1.66),(4.39,1.72),(4.58,1.72),(4.70,1.72),(4.79,1.70),(5.01,1.75),(5.05,1.76),(3.48,1.43),(3.51,1.37),(3.33,1.42),(3.53,1.24),(3.77,1.41),(3.92,1.42),(3.94,1.29),(3.90,1.27),(4.07,1.50),(4.15,1.56),(4.25,1.45),(4.29,1.37),(4.28,1.21),(4.34,1.44),(4.34,1.25),(4.43,1.50),(4.51,1.38),(4.54,1.42),(4.62,1.37),(4.69,1.44),(4.70,1.38),(4.54,1.29),(4.65,1.29),(4.98,1.41),(5.01,1.38),(5.03,1.42),(4.98,1.34),(3.89,1.26),(3.92,1.30),(4.26,1.21),(3.67,1.16),(3.55,1.03),(4.04,1.03),(4.22,1.07),(4.43,1.03),(4.44,0.99),(4.76,0.95),(4.81,0.97),(4.99,1.01),(4.99,0.92),(4.77,0.83),(4.79,0.76),(4.70,0.90),(3.52,0.97),(3.57,0.91),(3.61,0.95),(3.60,0.83),(3.68,0.86),(3.77,0.87),(3.78,0.81),(3.90,0.94),(3.93,0.86),(3.88,0.82),(3.92,0.79),(4.01,0.73),(4.04,0.70),(4.30,0.86),(4.47,0.84),(4.47,0.66),(4.92,0.55),(4.87,0.45),(4.95,0.46),(4.95,0.57),(5.06,0.40),(4.79,0.53),(4.76,0.50),(3.55,0.70),(3.60,0.70),(3.77,0.67),(4.01,0.68),(3.99,0.53),(4.08,0.55),(4.21,0.54),(4.26,0.50),(4.34,0.47),(4.51,0.49),(4.58,0.53),(4.67,0.53),(3.60,0.51),(3.65,0.49),(3.77,0.54),(3.78,0.47),(3.88,0.49),(3.92,0.42),(3.53,0.28),(3.61,0.20),(3.77,0.04),(3.88,0.24),(4.06,0.04),(4.23,0.07),(4.30,0.06),(4.39,0.15),(4.48,0.32),(4.66,0.15),(4.83,0.12),(4.91,0.16),(4.98,0.19),(4.85,0.05)]

tick_values = [0, 1000000, 2000000, 3000000, 4000000, 5000000, 6000000]

blue_all = np.array(blue_top_left + blue_top_mid + blue_top_right + blue_mid_left + blue_mid_mid
                    + blue_mid_right + blue_low_left + blue_low_mid + blue_low_right) * 1e6
red_all = np.array(red_top_left + red_top_mid + red_top_right + red_mid_left + red_mid_mid
                   + red_mid_right + red_low_left + red_low_mid + red_low_right) * 1e6

fig = plt.figure(figsize=(8, 8), dpi=100)
ax = fig.add_axes([0.069, 0.034, 0.913, 0.954])

ax.scatter(red_all[:, 0], red_all[:, 1], s=44, c='#ff0000', linewidths=0, zorder=3)
ax.scatter(blue_all[:, 0], blue_all[:, 1], s=44, c='#0080ff', linewidths=0, zorder=4)

ax.set_xlim(0, 6000000)
ax.set_ylim(0, 6000000)
ax.set_xticks(tick_values)
ax.set_yticks(tick_values)
ax.set_xticklabels([str(v) for v in tick_values])
ax.set_yticklabels([str(v) for v in tick_values])

for s in ax.spines.values():
    s.set_visible(False)
ax.grid(True, color='#a0a0a0', linestyle=(0, (2, 3)), linewidth=1)
ax.set_axisbelow(True)
ax.tick_params(direction='in', length=3, width=1, color='black', pad=4,
               labelsize=6.5, top=False, right=False)
for lab in ax.get_xticklabels() + ax.get_yticklabels():
    lab.set_fontfamily('DejaVu Sans Mono')
    lab.set_fontweight('bold')

ax.set_xlabel('REF', fontsize=6.5, family='DejaVu Sans Mono', labelpad=3)
ax.set_ylabel('Xanpruni_MAFF311562', fontsize=6.5, family='DejaVu Sans Mono')
ax.yaxis.set_label_coords(-0.063, 0.5)

fig.savefig('out.png', dpi=100)
